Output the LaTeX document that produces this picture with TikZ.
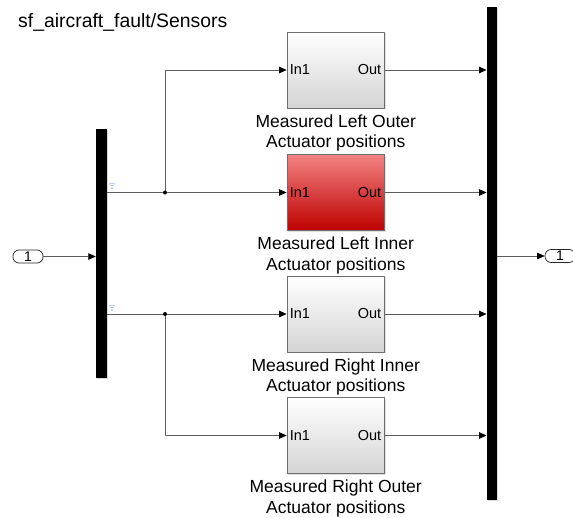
\documentclass[tikz,border=0pt]{standalone}
\usepackage{fontspec}
\setmainfont{Liberation Sans}
\usetikzlibrary{arrows.meta,positioning,shadows}
\definecolor{wire}{HTML}{5E5E5E}
\definecolor{blkline}{HTML}{6E6E6E}
\definecolor{blktop}{HTML}{FFFFFF}
\definecolor{blkbot}{HTML}{D4D4D4}
\definecolor{faulttop}{HTML}{F28282}
\definecolor{faultbot}{HTML}{BE0000}
\definecolor{logblue}{HTML}{8DB4E2}
\tikzset{
  wire/.style={draw=wire, line width=0.7pt},
  sig/.style={wire, -{Triangle[length=7.5pt,width=6.5pt,color=black]}},
  sfblock/.style={draw=blkline, line width=0.7pt, minimum width=97.5pt, minimum height=76pt, inner sep=0pt,
    top color=blktop, bottom color=blkbot, drop shadow={shadow xshift=1pt, shadow yshift=-1pt, opacity=.25}},
  faultblock/.style={sfblock, top color=faulttop, bottom color=faultbot},
  bar/.style={fill=black, draw=none, inner sep=0pt, minimum width=10.5pt,
    drop shadow={shadow xshift=1pt, shadow yshift=-1pt, opacity=.3}},
  port/.style={draw=black!85, line width=0.7pt, rounded corners=6pt, minimum width=30pt, minimum height=13pt,
    inner sep=0pt, font=\fontsize{14}{14}\selectfont},
  plabel/.style={font=\fontsize{14.5}{15}\selectfont, inner sep=0pt},
  caption/.style={font=\fontsize{17.5}{20.5}\selectfont, align=center, inner sep=0pt},
}
\begin{document}
\begin{tikzpicture}[x=1pt, y=-1pt, line join=round]
  \useasboundingbox (0,0) rectangle (573,517);
  \node[anchor=base west, font=\fontsize{19.4}{20}\selectfont, inner sep=0pt] (title) at (18,27) {sf\_aircraft\_fault/Sensors};
  % demux, mux and the ports
  \node[bar, minimum height=249pt] (demux) at (101.25,253.5) {};
  \node[bar, minimum height=493pt] (mux) at (492,253.5) {};
  \node[port] (inport) at (28,256.5) {1};
  \node[port] (outport) at (560,256) {1};
  % sensor blocks
  \foreach \n/\y/\s/\txt in {lo/70/sfblock/Measured Left Outer, li/192.5/faultblock/Measured Left Inner,
      ri/314/sfblock/Measured Right Inner, ro/435.5/sfblock/Measured Right Outer}{
    \node[\s] (\n) at (335.75,\y) {};
    \node[plabel, anchor=west] (\n-in) at ([xshift=3pt]\n.west) {In1};
    \node[plabel, anchor=east] (\n-out) at ([xshift=-3.5pt]\n.east) {Out};
    \node[caption, below=6pt of \n] (\n-cap) {\txt\\Actuator positions};
    \draw[sig] (\n.east) -- (\n.east -| mux.west);
  }
  % wires
  \coordinate (b1) at (li.west -| 165,0);
  \coordinate (b2) at (ri.west -| 165,0);
  \draw[sig] (inport.east) -- (inport.east -| demux.west);
  \draw[sig] (demux.east |- li.west) -- (li.west);
  \draw[sig] (demux.east |- ri.west) -- (ri.west);
  \draw[sig] (b1) |- (lo.west);
  \draw[sig] (b2) |- (ro.west);
  \fill (b1) circle (2pt) (b2) circle (2pt);
  \draw[sig] (mux.east |- outport.west) -- (outport.west);
  % logging marks
  \foreach \y in {188,310}{
    \fill[logblue] (112,\y) circle (0.8pt);
    \draw[logblue, line width=0.5pt] (112,\y) ++(230:2.8) arc[start angle=230, end angle=310, radius=2.8];
    \draw[logblue, line width=0.5pt] (112,\y) ++(230:5) arc[start angle=230, end angle=310, radius=5];
  }
\end{tikzpicture}
\end{document}
